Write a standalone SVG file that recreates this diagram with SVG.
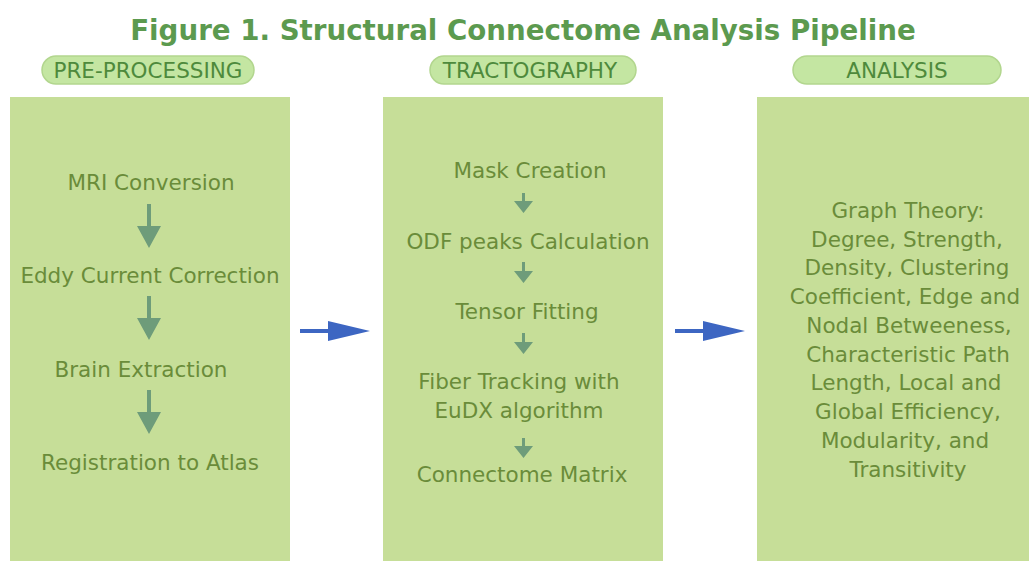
<svg xmlns="http://www.w3.org/2000/svg" width="1029" height="561" viewBox="0 0 1029 561">
<style>
.title{font-family:"DejaVu Sans",Verdana,sans-serif;font-weight:bold;font-size:27.7px;fill:#5c9a4f;text-anchor:middle}
.pill{fill:#c4e6a2;stroke:#b2d68e;stroke-width:1.5}
.ptxt{font-family:"DejaVu Sans",Verdana,sans-serif;font-size:21.5px;fill:#4e8a3c;text-anchor:middle}
.box{fill:#c6de98}
.t{font-family:"DejaVu Sans",Verdana,sans-serif;font-size:21.5px;fill:#6a8c3a;text-anchor:middle}
.ia{fill:#6e9c7a}
.ba{fill:#3d66c2}
</style>
<rect width="1029" height="561" fill="#ffffff"/>
<text class="title" x="523" y="40">Figure 1. Structural Connectome Analysis Pipeline</text>
<g id="stage1">
<rect class="pill" x="42" y="56" width="212" height="28" rx="14"/>
<text class="ptxt" x="148" y="78">PRE-PROCESSING</text>
</g>
<g id="stage2">
<rect class="pill" x="430" y="56" width="206" height="28" rx="14"/>
<text class="ptxt" x="530" y="78">TRACTOGRAPHY</text>
</g>
<g id="stage3">
<rect class="pill" x="793" y="56" width="208" height="28" rx="14"/>
<text class="ptxt" x="897" y="78">ANALYSIS</text>
</g>
<g id="preprocessing">
<rect class="box" x="10" y="97" width="280" height="464"/>
<text class="t" x="151" y="190">MRI Conversion</text>
<text class="t" x="150" y="283">Eddy Current Correction</text>
<text class="t" x="141" y="377">Brain Extraction</text>
<text class="t" x="150" y="470">Registration to Atlas</text>
</g>
<g id="tractography">
<rect class="box" x="383" y="97" width="280" height="464"/>
<text class="t" x="530" y="178">Mask Creation</text>
<text class="t" x="528" y="249">ODF peaks Calculation</text>
<text class="t" x="527" y="319">Tensor Fitting</text>
<text class="t" x="519" y="389">Fiber Tracking with</text>
<text class="t" x="519" y="418">EuDX algorithm</text>
<text class="t" x="522" y="482">Connectome Matrix</text>
</g>
<g id="analysis">
<rect class="box" x="757" y="97" width="272" height="464"/>
<text class="t" x="908" y="218">Graph Theory:</text>
<text class="t" x="907" y="247">Degree, Strength,</text>
<text class="t" x="907" y="275">Density, Clustering</text>
<text class="t" x="905" y="304">Coefficient, Edge and</text>
<text class="t" x="909" y="333">Nodal Betweeness,</text>
<text class="t" x="908" y="362">Characteristic Path</text>
<text class="t" x="906" y="390">Length, Local and</text>
<text class="t" x="908" y="419">Global Efficiency,</text>
<text class="t" x="905" y="448">Modularity, and</text>
<text class="t" x="908" y="477">Transitivity</text>
</g>
<g id="connectors">
<path class="ia" d="M147,204 h4 v22 h10 l-12,22 l-12,-22 h10 z"/>
<path class="ia" d="M147,296 h4 v22 h10 l-12,22 l-12,-22 h10 z"/>
<path class="ia" d="M147,390 h4 v22 h10 l-12,22 l-12,-22 h10 z"/>
<path class="ia" d="M522,193 h3 v8 h8 l-9.5,12 l-9.5,-12 h8 z"/>
<path class="ia" d="M522,262 h3 v9 h8 l-9.5,12 l-9.5,-12 h8 z"/>
<path class="ia" d="M522,333 h3 v9 h8 l-9.5,12 l-9.5,-12 h8 z"/>
<path class="ia" d="M522,438 h3 v8 h8 l-9.5,12 l-9.5,-12 h8 z"/>
<path class="ba" d="M300,329 h28 v-8 l42,10 l-42,10 v-8 h-28 z"/>
<path class="ba" d="M675,329 h28 v-8 l42,10 l-42,10 v-8 h-28 z"/>
</g>
</svg>
